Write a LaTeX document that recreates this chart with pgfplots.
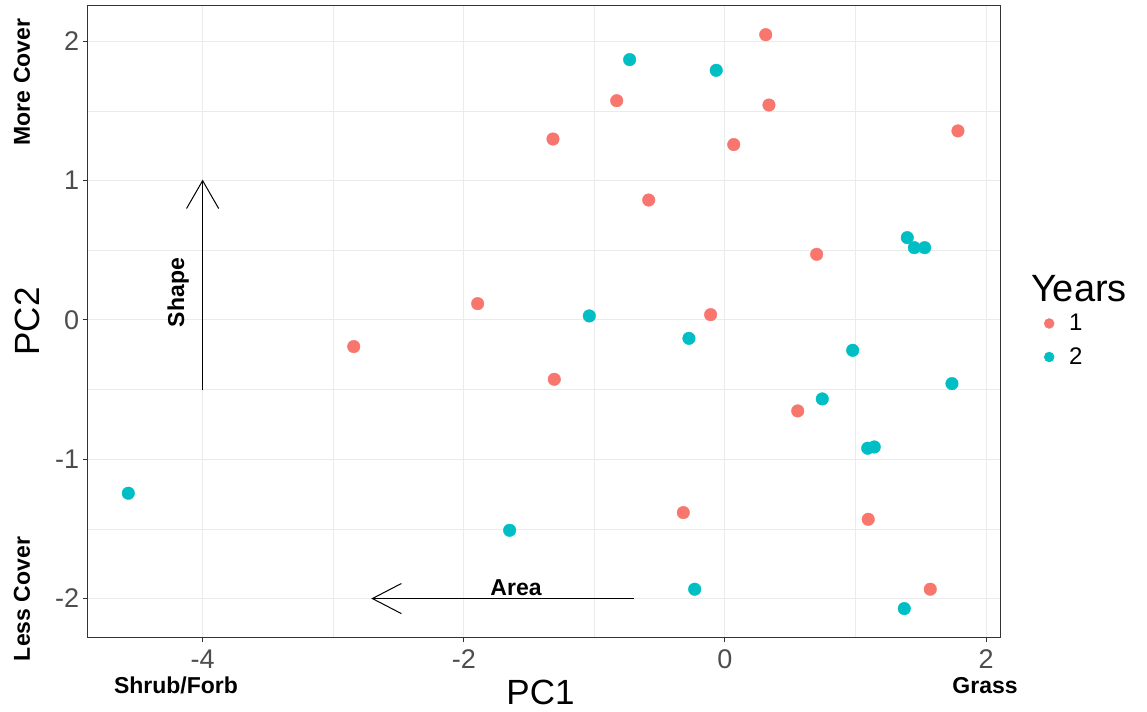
\documentclass[border=0pt]{standalone}
\usepackage{fontspec}
\setmainfont{Liberation Sans}
\usepackage{pgfplots}
\pgfplotsset{compat=1.18}
\definecolor{yr1}{HTML}{F8766D}
\definecolor{yr2}{HTML}{00BFC4}
\definecolor{gridgrey}{HTML}{EBEBEB}
\definecolor{textgrey}{HTML}{4D4D4D}
\definecolor{framegrey}{HTML}{333333}

\newcommand{\bfnote}{\fontsize{23bp}{27bp}\selectfont\bfseries}

\begin{document}
\begin{tikzpicture}
% page frame: the axis box has its lower left corner at the origin
\useasboundingbox (-87.7bp,-75bp) rectangle (1059.3bp,637bp);
\begin{axis}[
  scale only axis, width=912.3bp, height=631.3bp,
  xmin=-4.88, xmax=2.106, ymin=-2.276, ymax=2.256,
  clip=false,
  xtick={-4,-2,0,2}, xticklabels={-4,-2,0,2},
  ytick={-2,-1,0,1,2}, yticklabels={-2,-1,0,1,2},
  minor xtick={-3,-1,1}, minor ytick={-1.5,-0.5,0.5,1.5},
  grid=both,
  major grid style={gridgrey, line width=1bp},
  minor grid style={gridgrey, line width=0.7bp},
  axis line style={framegrey, line width=1bp},
  tick align=outside, tick pos=left,
  major tick length=5bp, minor tick length=0pt,
  tick style={framegrey, line width=1bp},
  ticklabel style={font=\fontsize{27bp}{32bp}\selectfont, text=textgrey},
  xticklabel style={yshift=-4bp},
  xlabel={PC1}, ylabel={PC2},
  label style={font=\fontsize{35bp}{42bp}\selectfont},
  xlabel style={at={(axis description cs:0.4963,-0.0879)}, anchor=center},
  ylabel style={at={(axis description cs:-0.066,0.4998)}, anchor=center},
  legend style={draw=none, fill=none, at={(1.0,0.470)}, anchor=west,
    xshift=43bp, inner sep=0pt, row sep=11.4bp,
    font=\fontsize{24bp}{29bp}\selectfont, cells={anchor=west}},
  legend image code/.code={%
    \path[draw=none, fill=none] (0bp,0bp) -- (24bp,0bp);
    \draw[#1, mark size=5bp] plot[only marks] coordinates {(6bp,0bp)};},
]
% loading vectors
\addplot[black, line width=1bp, forget plot] coordinates {(-4,-0.5) (-4,1)};
\addplot[black, line width=1bp, forget plot] coordinates {(-4.123,0.8) (-4,1) (-3.877,0.8)};
\addplot[black, line width=1bp, forget plot] coordinates {(-0.7,-2) (-2.7,-2)};
\addplot[black, line width=1bp, forget plot] coordinates {(-2.478,-1.892) (-2.7,-2) (-2.478,-2.108)};

% year 1
\addplot[only marks, mark=*, mark size=6.3bp, color=yr1] coordinates {
 (0.312,2.048) (0.337,1.543) (1.784,1.357) (-0.829,1.574) (-1.317,1.299)
 (0.067,1.259) (-0.584,0.861) (0.702,0.471) (-1.894,0.117) (-0.110,0.038)
 (-2.843,-0.191) (-1.307,-0.426) (0.557,-0.653) (-0.319,-1.383)
 (1.097,-1.431) (1.572,-1.933)
};
\addlegendentry{1}
% year 2
\addplot[only marks, mark=*, mark size=6.3bp, color=yr2] coordinates {
 (-0.730,1.869) (-0.067,1.792) (-1.039,0.029) (-0.276,-0.132)
 (1.396,0.591) (1.450,0.519) (1.529,0.519) (0.978,-0.218)
 (1.738,-0.457) (0.745,-0.567) (1.093,-0.921) (1.143,-0.912)
 (1.373,-2.072) (-4.569,-1.244) (-1.649,-1.510) (-0.232,-1.933)
};
\addlegendentry{2}

% annotations
\node[rotate=90, font=\bfnote] at (axis cs:-4.188,0.197) {Shape};
\node[font=\bfnote] at (axis cs:-1.600,-1.922) {Area};
\node[rotate=90, font=\bfnote] at (axis description cs:-0.0720,0.8792) {More Cover};
\node[rotate=90, font=\bfnote] at (axis description cs:-0.0720,0.0602) {Less Cover};
\node[font=\bfnote] at (axis description cs:0.0968,-0.0760) {Shrub/Forb};
\node[font=\bfnote] at (axis description cs:0.9836,-0.0768) {Grass};
\node[anchor=base west, inner sep=0pt, font=\fontsize{38bp}{45bp}\selectfont] at (axis description cs:1.0338,0.5311) {Years};
\end{axis}
\end{tikzpicture}
\end{document}
